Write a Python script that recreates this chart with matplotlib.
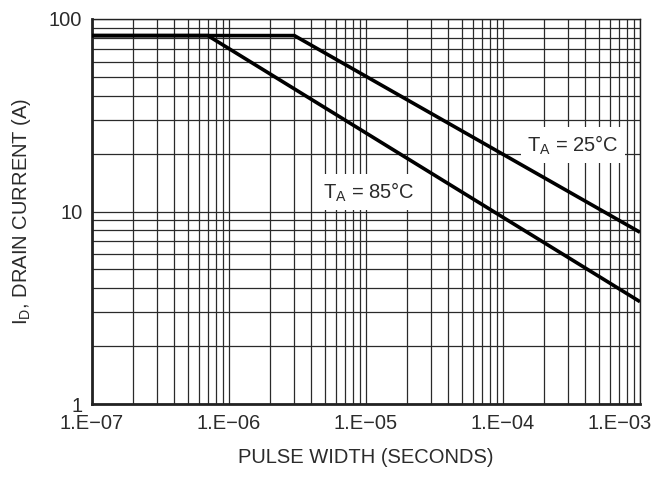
import matplotlib
matplotlib.use('Agg')
import matplotlib.pyplot as plt
import matplotlib.transforms as mtransforms
from matplotlib.ticker import LogLocator, NullFormatter, FixedLocator, FixedFormatter

plt.rcParams['font.family'] = ['Liberation Sans', 'DejaVu Sans']
plt.rcParams['mathtext.fontset'] = 'custom'
plt.rcParams['mathtext.rm'] = 'Liberation Sans'
plt.rcParams['mathtext.it'] = 'Liberation Sans'

# pulse width (s) vs drain current (A)
pulse_25c = [1e-7, 3e-6, 1e-3]
current_25c = [82, 82, 7.8]
pulse_85c = [1e-7, 7e-7, 1e-3]
current_85c = [82, 82, 3.4]

x_ticks = [1e-7, 1e-6, 1e-5, 1e-4, 1e-3]
x_tick_labels = ['1.E\u221207', '1.E\u221206', '1.E\u221205', '1.E\u221204', '1.E\u221203']
y_ticks = [1, 10, 100]
y_tick_labels = ['1', '10', '100']

text_color = '#2b2b2b'
grid_color = '#2a2a2a'
fs = 14.5

fig = plt.figure(figsize=(6.65, 4.79), dpi=100)
ax = fig.add_axes([92 / 665, 1 - 404 / 479, 548 / 665, 385 / 479])

ax.plot(pulse_25c, current_25c, color='black', lw=2.6, solid_capstyle='butt', zorder=4)
ax.plot(pulse_85c, current_85c, color='black', lw=2.6, solid_capstyle='butt', zorder=4)

ax.set_xscale('log')
ax.set_yscale('log')
ax.set_xlim(1e-7, 1e-3)
ax.set_ylim(1, 100)

ax.xaxis.set_major_locator(FixedLocator(x_ticks))
ax.xaxis.set_major_formatter(FixedFormatter(x_tick_labels))
ax.yaxis.set_major_locator(FixedLocator(y_ticks))
ax.yaxis.set_major_formatter(FixedFormatter(y_tick_labels))
for axis in (ax.xaxis, ax.yaxis):
    axis.set_minor_locator(LogLocator(base=10, subs=range(2, 10), numticks=20))
    axis.set_minor_formatter(NullFormatter())

ax.grid(True, which='both', color=grid_color, lw=0.9, zorder=1)
ax.set_axisbelow(True)
ax.tick_params(which='both', length=0, labelsize=fs, labelcolor=text_color)
ax.tick_params(axis='x', pad=7)
ax.tick_params(axis='y', pad=7)

for sp in ax.spines.values():
    sp.set_linewidth(1.0)
    sp.set_color('#222222')
ax.spines['left'].set_linewidth(2.0)
ax.spines['bottom'].set_linewidth(2.0)

# last x label is pulled inside the figure in the original
last = ax.get_xticklabels()[-1]
offset = mtransforms.ScaledTranslation(-0.20, 0, fig.dpi_scale_trans)
last.set_transform(last.get_transform() + offset)

ax.set_xlabel('PULSE WIDTH (SECONDS)', fontsize=fs, color=text_color)
ax.set_ylabel(r'I$_\mathregular{D}$, DRAIN CURRENT (A)', fontsize=fs, color=text_color)
ax.xaxis.set_label_coords(0.5, -0.115)
ax.yaxis.set_label_coords(-0.107, 0.5)

box = dict(boxstyle='square,pad=0.3', fc='white', ec='none')
ax.text(0.878, 0.673, r'T$_\mathregular{A}$ = 25°C', transform=ax.transAxes,
        ha='center', va='center', fontsize=fs, color=text_color, bbox=box, zorder=3)
ax.text(0.505, 0.551, r'T$_\mathregular{A}$ = 85°C', transform=ax.transAxes,
        ha='center', va='center', fontsize=fs, color=text_color, bbox=box, zorder=3)

fig.savefig('out.png', dpi=100)
